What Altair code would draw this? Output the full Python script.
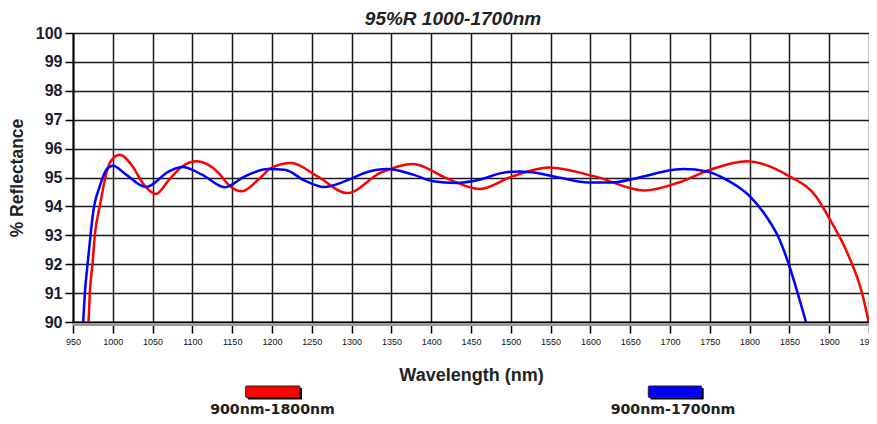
import altair as alt
import pandas as pd

series_names = ["900nm-1800nm", "900nm-1700nm"]
series_colors = ["#ff0000", "#0000ff"]

red_nm = [969.5, 971.1, 974.5, 977.4, 983.6, 996.0, 1008.5, 1025.0, 1037.4, 1054.1,
          1070.6, 1087.2, 1105.8, 1132.8, 1145.3, 1161.8, 1182.6, 1199.1, 1224.0,
          1257.2, 1294.5, 1336.0, 1377.5, 1418.9, 1460.3, 1501.9, 1547.4, 1605.5,
          1667.7, 1709.1, 1750.6, 1796.1, 1850.1, 1883.2, 1899.8, 1924.7, 1941.3, 1949.6]
red_r = [90.0, 91.0, 92.0, 93.0, 94.0, 95.5, 95.79, 95.38, 94.81, 94.43,
         94.92, 95.38, 95.56, 95.16, 94.75, 94.52, 94.92, 95.33, 95.5,
         95.04, 94.46, 95.16, 95.47, 94.98, 94.6, 95.04, 95.35, 95.04,
         94.55, 94.81, 95.27, 95.56, 95.04, 94.35, 93.6, 92.27, 91.0, 90.0]

blue_nm = [962.8, 964.9, 968.3, 972.0, 975.2, 983.6, 991.9, 1000.1, 1016.7, 1041.7,
           1070.6, 1087.2, 1112.1, 1140.8, 1166.0, 1195.0, 1215.8, 1240.7, 1265.2,
           1294.5, 1319.0, 1344.3, 1377.5, 1402.4, 1431.3, 1460.3, 1489.4, 1510.1,
           1526.7, 1564.0, 1597.1, 1626.2, 1667.7, 1692.5, 1717.4, 1746.4, 1771.3,
           1800.4, 1821.0, 1837.7, 1850.1, 1860.4, 1870.8]
blue_r = [90.0, 91.0, 92.0, 93.0, 93.77, 94.69, 95.27, 95.41, 95.1, 94.67,
          95.21, 95.36, 95.1, 94.66, 95.04, 95.29, 95.27, 94.9, 94.67,
          94.9, 95.18, 95.29, 95.1, 94.87, 94.81, 94.92, 95.16, 95.21,
          95.18, 94.98, 94.83, 94.83, 95.04, 95.21, 95.29, 95.21, 94.92,
          94.35, 93.65, 92.85, 91.92, 91.0, 90.0]

x_ticks = list(range(950, 1951, 50))
y_ticks = list(range(90, 101))

df = pd.concat([
    pd.DataFrame({"nm": red_nm, "R": red_r, "series": series_names[0], "order": range(len(red_nm))}),
    pd.DataFrame({"nm": blue_nm, "R": blue_r, "series": series_names[1], "order": range(len(blue_nm))}),
])

FONT = "Liberation Sans"
WIDE = "DejaVu Sans"

x_enc = alt.X("nm:Q", scale=alt.Scale(domain=[950, 1950], nice=False, zero=False),
              axis=alt.Axis(values=x_ticks, format="d", title="Wavelength (nm)", grid=True,
                            gridColor="#1a1a1a", gridWidth=1.5, gridOpacity=1,
                            domainColor="#000", domainWidth=2,
                            tickColor="#000", tickWidth=1.5, tickSize=11,
                            labelFont=FONT, labelFontSize=9, labelColor="#111",
                            labelPadding=4, labelOverlap=False, labelFlush=False,
                            titleFont=FONT, titleFontSize=18, titleFontWeight="bold",
                            titleColor="#222", titleY=58, titleBaseline="alphabetic"))
y_enc = alt.Y("R:Q", scale=alt.Scale(domain=[90, 100], nice=False, zero=False),
              axis=alt.Axis(values=y_ticks, tickCount=11, format="d", title="% Reflectance",
                            grid=True,
                            gridColor="#1a1a1a", gridWidth=1.5, gridOpacity=1,
                            domainColor="#000", domainWidth=2,
                            tickColor="#000", tickWidth=1.5, tickSize=8,
                            labelFont=FONT, labelFontSize=16, labelFontWeight="bold",
                            labelColor="#1c1c30", labelPadding=3, labelOverlap=False,
                            labelSeparation=0, labelFlush=False,
                            titleFont=FONT, titleFontSize=17.5, titleFontWeight="bold",
                            titleColor="#222", titleAngle=270, titleX=-56, titleY=144.5,
                            titleAlign="center", titleBaseline="middle"))

color_scale = alt.Scale(domain=series_names, range=series_colors)

lines = alt.Chart(df).mark_line(strokeWidth=2.5, interpolate="monotone", clip=True).encode(
    x=x_enc, y=y_enc, order="order:Q",
    color=alt.Color("series:N", scale=color_scale, legend=None),
    detail="series:N",
)

shadow = alt.Chart(pd.DataFrame({"R": [90]})).mark_rule(
    color="#9a9a9a", strokeWidth=3, yOffset=2.5
).encode(y=alt.Y("R:Q"))

leg_df = pd.DataFrame({"series": series_names})

LEG_TOP = 353.0   # swatch top, relative to plot top
LEG_TXT = 381.2   # label baseline, relative to plot top


def legend_entry(name, x0, x1, xc):
    d = leg_df[leg_df.series == name]
    sh = alt.Chart(d).mark_rect(color="#000", cornerRadius=1).encode(
        x=alt.value(x0 + 2), x2=alt.value(x1 + 2), y=alt.value(LEG_TOP + 2), y2=alt.value(LEG_TOP + 13.5))
    sw = alt.Chart(d).mark_rect(stroke="#222", strokeWidth=1, cornerRadius=1).encode(
        x=alt.value(x0), x2=alt.value(x1), y=alt.value(LEG_TOP), y2=alt.value(LEG_TOP + 11.5),
        color=alt.Color("series:N", scale=color_scale, legend=None))
    tx = alt.Chart(d).mark_text(font=WIDE, fontSize=14.2, fontWeight="bold", color="#222",
                                align="center", baseline="alphabetic").encode(
        x=alt.value(xc), y=alt.value(LEG_TXT), text="series:N")
    return sh + sw + tx


chart = alt.layer(
    shadow, lines,
    legend_entry(series_names[0], 172.7, 227, 199.5),
    legend_entry(series_names[1], 575.3, 628.7, 600),
).properties(
    width=796, height=289,
    title=alt.TitleParams("95%R 1000-1700nm", font=FONT, fontSize=19, fontWeight="bold",
                          fontStyle="italic", color="#222", anchor="middle", dx=-18,
                          offset=-4),
    autosize=alt.AutoSizeParams(type="none"),
    padding={"left": 65, "top": 25, "right": 0, "bottom": 96},
).configure_view(stroke=None).configure(background="white").configure_axisY(
    labelOverlap=False
)

chart.save("out.html", embed_options={"renderer": "svg", "actions": False})
